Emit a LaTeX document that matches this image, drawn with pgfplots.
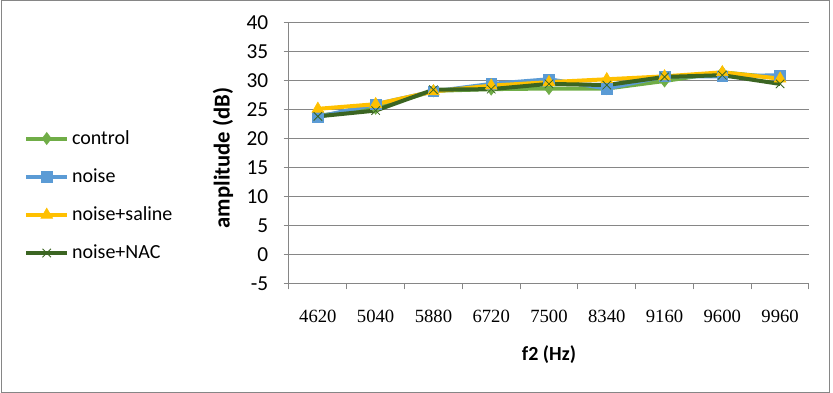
\documentclass[border=0pt]{standalone}
\usepackage{fontspec}
\setmainfont{Carlito}
\newfontfamily\serifx{Liberation Serif}
\usepackage{pgfplots}
\pgfplotsset{compat=1.18}
\definecolor{cctrl}{HTML}{70AD47}
\definecolor{cnoise}{HTML}{5B9BD5}
\definecolor{csal}{HTML}{FFC000}
\definecolor{cnac}{HTML}{3B6522}
\definecolor{gridc}{HTML}{868686}
\begin{document}
\begin{tikzpicture}
\useasboundingbox (0,0) rectangle (624.75pt,294.75pt);
\draw[gridc,line width=0.75pt] (1.1pt,0.5pt) rectangle (621.8pt,294.3pt);
\begin{axis}[
  at={(216.75pt,81.75pt)}, anchor=south west,
  scale only axis, width=390pt, height=195.75pt,
  xmin=-0.5, xmax=8.5, ymin=-5, ymax=40,
  ytick={-5,0,...,40},
  xtick={0,...,8},
  xticklabels={4620,5040,5880,6720,7500,8340,9160,9600,9960},
  minor xtick={-0.5,0.5,...,8.5},
  axis x line=bottom, axis y line=left,
  axis line style={gridc,line width=0.75pt,-},
  ymajorgrids, grid style={gridc,line width=0.75pt},
  major x tick style={draw=none},
  minor x tick style={gridc,line width=0.75pt},
  major y tick style={gridc,line width=0.75pt},
  tick align=outside, major tick length=4pt, minor tick length=4pt,
  /pgf/number format/assume math mode=true,
  y tick label style={font=\fontsize{16}{18}\selectfont, xshift=-8pt},
  x tick label style={font=\serifx\fontsize{14}{16}\selectfont, yshift=-12pt},
  xlabel={f2 (Hz)}, ylabel={amplitude (dB)},
  xlabel style={font=\bfseries\fontsize{15}{17}\selectfont, at={(axis description cs:0.5,-0.272)}, anchor=center},
  ylabel style={font=\bfseries\fontsize{17}{19}\selectfont, at={(axis description cs:-0.127,0.483)}, anchor=center},
  legend style={draw=none, fill=none, at={(axis description cs:-0.51,0.599)}, anchor=north west,
    font=\fontsize{15}{17}\selectfont, row sep=12.75pt, inner sep=0pt},
  legend cell align=left,
  legend image code/.code={\draw[#1] (0pt,0pt) -- (31pt,0pt); \draw[#1,mark repeat=2,mark phase=2] plot coordinates {(0pt,0pt) (15.5pt,0pt) (31pt,0pt)};},
  every axis plot/.append style={line width=3pt},
  clip=false,
]
\addplot[cctrl, mark=diamond*, mark size=4.5pt, mark options={solid,line width=0.5pt,fill=cctrl}] coordinates {
(0,24.0) (1,25.3) (2,28.3) (3,28.6) (4,28.7) (5,28.7) (6,30.0) (7,31.5) (8,30.5)};
\addlegendentry{control}
\addplot[cnoise, mark=square*, mark size=4pt, mark options={solid,line width=0.5pt,fill=cnoise}] coordinates {
(0,23.8) (1,26.0) (2,28.2) (3,29.5) (4,30.3) (5,28.7) (6,30.8) (7,30.8) (8,31.0)};
\addlegendentry{noise}
\addplot[csal, mark=triangle*, mark size=5pt, mark options={solid,line width=0.5pt,fill=csal}] coordinates {
(0,25.2) (1,26.0) (2,28.2) (3,29.2) (4,29.8) (5,30.3) (6,30.8) (7,31.5) (8,30.4)};
\addlegendentry{noise+saline}
\addplot[cnac, mark=x, mark size=4.5pt, mark options={solid,line width=0.6pt}] coordinates {
(0,23.9) (1,24.9) (2,28.5) (3,28.6) (4,29.5) (5,29.3) (6,30.7) (7,31.0) (8,29.5)};
\addlegendentry{noise+NAC}
\end{axis}
\end{tikzpicture}
\end{document}
